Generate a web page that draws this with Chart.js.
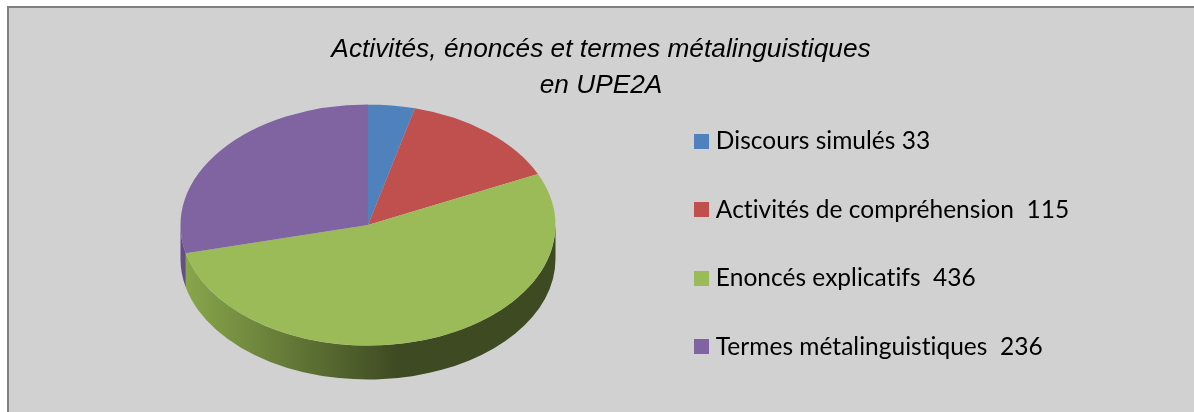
<!DOCTYPE html>
<html lang="fr">
<head>
<meta charset="utf-8">
<title>Activités, énoncés et termes métalinguistiques en UPE2A</title>
<script src="https://cdn.jsdelivr.net/npm/chart.js@4"></script>
<style>
    html, body { margin: 0; padding: 0; background: #fff; overflow: hidden; }
    #frame {
        position: absolute; left: 7px; top: 6px; width: 1185px; height: 404px;
        background: #d1d1d1; border-left: 2px solid #808080; border-top: 2px solid #808080;
    }
    canvas { display: block; }
</style>
</head>
<body>
<div id="frame"><canvas id="pieChart" width="1185" height="404"></canvas></div>
<script>
const titleLines = ['Activités, énoncés et termes métalinguistiques', 'en UPE2A'];
const categories = ['Discours simulés 33', 'Activités de compréhension  115', 'Enoncés explicatifs  436', 'Termes métalinguistiques  236'];
const values = [33, 115, 436, 236];
const sliceColors = ['#4f81bd', '#c0504d', '#9bbb59', '#8064a2'];
const sideColors = ['#3c5e88', '#8a3a38', null, '#654e85'];

// Flattens the pie into an ellipse and adds the 3D side wall
const pieTilt = 0.643;
const pieDepth = 34;
const pieCenterX = 359;
const pieCenterY = 217;

const tiltedPie = {
    id: 'tiltedPie',
    beforeDraw(chart) {
        // Non zero spacing switches off the "ti" ligature of Lato
        chart.ctx.letterSpacing = '0.02px';
    },
    beforeDatasetsDraw(chart) {
        const ctx = chart.ctx;
        const arcs = chart.getDatasetMeta(0).data;
        const cx = arcs[0].x;
        const cy = arcs[0].y;
        const r = arcs[0].outerRadius;

        ctx.save();
        ctx.translate(pieCenterX - cx, pieCenterY - cy);

        const greenSide = ctx.createLinearGradient(cx - r, 0, cx + 30, 0);
        greenSide.addColorStop(0, '#8aa84c');
        greenSide.addColorStop(1, '#3e4a22');

        arcs.forEach((arc, i) => {
            // Canvas angles between 0 and PI are the front half of the pie
            const from = Math.max(arc.startAngle, 0);
            const to = Math.min(arc.endAngle, Math.PI);
            if (to <= from) return;
            ctx.beginPath();
            ctx.ellipse(cx, cy, r, r * pieTilt, 0, from, to);
            ctx.ellipse(cx, cy + pieDepth, r, r * pieTilt, 0, to, from, true);
            ctx.closePath();
            ctx.fillStyle = sideColors[i] || greenSide;
            ctx.fill();
        });

        ctx.translate(cx, cy);
        ctx.scale(1, pieTilt);
        ctx.translate(-cx, -cy);
    },
    afterDatasetsDraw(chart) {
        chart.ctx.restore();
    }
};

// Legend swatches as small canvases, this keeps the gap before the text narrow
function makeSwatch(color) {
    const swatch = document.createElement('canvas');
    swatch.width = 15;
    swatch.height = 15;
    const c = swatch.getContext('2d');
    c.fillStyle = color;
    c.fillRect(0, 0, 15, 15);
    return swatch;
}

new Chart(document.getElementById('pieChart'), {
    type: 'pie',
    data: {
        labels: categories,
        datasets: [{
            data: values,
            backgroundColor: sliceColors,
            borderWidth: 0,
            radius: 187.5,
            clip: false
        }]
    },
    options: {
        responsive: false,
        animation: false,
        layout: { padding: { left: 114, right: 115, top: 0, bottom: 9 } },
        plugins: {
            title: {
                display: true,
                text: titleLines,
                color: '#000',
                font: { family: '"Liberation Sans"', size: 26.25, style: 'italic', weight: 'normal', lineHeight: 1.4 },
                padding: { top: 23, bottom: 10 }
            },
            legend: {
                position: 'right',
                align: 'end',
                labels: {
                    color: '#000',
                    usePointStyle: true,
                    boxWidth: 5,
                    boxHeight: 15,
                    padding: 44,
                    font: { family: 'Lato', size: 24.5, lineHeight: 1.2 },
                    generateLabels(chart) {
                        return categories.map((text, i) => ({
                            text,
                            index: i,
                            fontColor: '#000',
                            lineWidth: 0,
                            pointStyle: makeSwatch(sliceColors[i])
                        }));
                    }
                }
            },
            tooltip: { enabled: false }
        }
    },
    plugins: [tiltedPie]
});
</script>
</body>
</html>
